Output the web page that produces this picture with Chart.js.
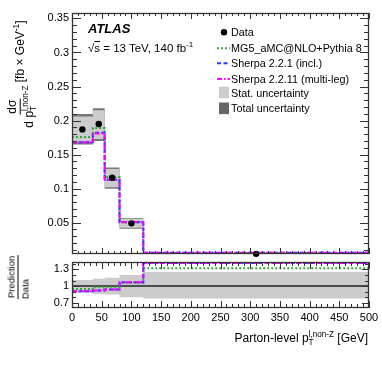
<!DOCTYPE html>
<html>
<head>
<meta charset="utf-8">
<script src="https://cdn.jsdelivr.net/npm/chart.js@4.4.0/dist/chart.umd.min.js"></script>
<style>
  body { margin: 0; background: #fff; font-family: "Liberation Sans", Arial, sans-serif; }
  #wrap { position: relative; width: 382px; height: 367px; overflow: hidden; background: #fff; }
  canvas { position: absolute; left: 0; }
  .txt { position: absolute; white-space: nowrap; color: #000; line-height: 1; }
  .leg { position: absolute; left: 231px; font-size: 10.8px; line-height: 12px; white-space: nowrap; }
  .ss { display: inline-flex; flex-direction: column; vertical-align: middle; font-size: 0.68em; line-height: 0.95; }
  .frac { display: inline-flex; flex-direction: column; align-items: center; vertical-align: middle; }
  .frac .num { border-bottom: 1px solid #000; padding: 0 1px 1px; }
  .frac .den { padding-top: 1px; }
  .frac.left { align-items: flex-start; }
  .rot { position: absolute; transform: translate(-50%, -50%) rotate(-90deg); white-space: nowrap; }
</style>
</head>
<body>
<div id="wrap">
  <canvas id="mainChart" width="382" height="258" style="top:0"></canvas>
  <canvas id="ratioChart" width="382" height="109" style="top:258px"></canvas>

  <div class="txt" style="left:88px; top:22px; font-size:13px; font-weight:bold; font-style:italic;">ATLAS</div>
  <div class="txt" style="left:88px; top:41px; font-size:11.5px;">√<span style="text-decoration:overline">s</span> = 13 TeV, 140 fb<sup style="font-size:0.7em">-1</sup></div>

  <svg width="20" height="92" style="position:absolute; left:214px; top:26px">
    <circle cx="10" cy="6.3" r="3.2" fill="#000"/>
    <line x1="3" y1="22.3" x2="16" y2="22.3" stroke="#3aa63a" stroke-width="2" stroke-dasharray="2 2"/>
    <line x1="3" y1="37.3" x2="16" y2="37.3" stroke="#1f3cff" stroke-width="2" stroke-dasharray="4 2.5"/>
    <line x1="3" y1="53" x2="16" y2="53" stroke="#ff00ff" stroke-width="2" stroke-dasharray="5 2 1.5 2"/>
    <rect x="5" y="60.7" width="10" height="11.6" fill="#cccccc"/>
    <rect x="5" y="76.5" width="10" height="11.6" fill="#666666"/>
  </svg>
  <div class="leg" style="top:26px">Data</div>
  <div class="leg" style="top:42px">MG5_aMC@NLO+Pythia 8</div>
  <div class="leg" style="top:57px">Sherpa 2.2.1 (incl.)</div>
  <div class="leg" style="top:73px">Sherpa 2.2.11 (multi-leg)</div>
  <div class="leg" style="top:87px">Stat. uncertainty</div>
  <div class="leg" style="top:102px">Total uncertainty</div>

  <div class="rot" style="left:21px; top:74px; font-size:12px;">
    <span class="frac"><span class="num">dσ</span><span class="den">d p<span class="ss"><span>l,non-Z</span><span>T</span></span></span></span>
    [fb × GeV<sup style="font-size:0.7em">-1</sup>]
  </div>
  <div class="rot" style="left:18px; top:277px; font-size:9.5px;">
    <span class="frac left"><span class="num">Prediction</span><span class="den">Data</span></span>
  </div>
  <div class="txt" style="right:14px; top:331px; font-size:12px;">Parton-level p<span class="ss"><span>l,non-Z</span><span>T</span></span> [GeV]</div>
</div>

<script>
// bin edges in GeV
const binEdges = [0, 35, 55, 80, 120, 500];

// main panel: dsigma/dpT [fb/GeV]
const dataY = [0.187, 0.195, 0.116, 0.049, 0.0042];
const mg5Y = [0.176, 0.189, 0.117, 0.0505, 0.0055];
const sherpa221Y = [0.168, 0.182, 0.113, 0.0505, 0.0059];
const sherpa2211Y = [0.168, 0.181, 0.113, 0.051, 0.0059];
const statHi = [0.206, 0.215, 0.129, 0.0555, 0.0052];
const statLo = [0.168, 0.173, 0.102, 0.0425, 0.0034];
const totHi = [0.2095, 0.218, 0.131, 0.0566, 0.0053];
const totLo = [0.165, 0.170, 0.100, 0.041, 0.0033];

// ratio panel: prediction / data
const mg5Ratio = [0.95, 0.98, 0.98, 1.06, 1.32];
const sherpa221Ratio = [0.91, 0.92, 0.94, 1.07, 1.41];
const sherpa2211Ratio = [0.91, 0.92, 0.94, 1.07, 1.41];
const ratioHi = [1.11, 1.13, 1.15, 1.2, 1.25];
const ratioLo = [0.88, 0.86, 0.85, 0.8, 0.78];

// axis ticks
const xMajorTicks = [0, 50, 100, 150, 200, 250, 300, 350, 400, 450, 500];
const mainYTicks = [0.05, 0.1, 0.15, 0.2, 0.25, 0.3, 0.35];
const ratioYTicks = [0.7, 1, 1.3];

const FONT = '"Liberation Sans", Arial, sans-serif';
const GREEN = '#3aa63a', BLUE = '#1f3cff', MAGENTA = '#ff00ff';

function stepPoints(vals) {
    return binEdges.map((e, i) => ({ x: e, y: vals[Math.min(i, vals.length - 1)] }));
}

function minorList(lo, hi, step) {
    const out = [];
    for (let v = lo; v <= hi + step / 2; v += step) out.push(+v.toFixed(4));
    return out;
}

// ROOT-style frame with ticks drawn inside on all four sides
const frameTicks = {
    id: 'frameTicks',
    afterDraw(chart, args, o) {
        const { ctx, chartArea: a } = chart;
        const xs = chart.scales.x, ys = chart.scales.y;
        ctx.save();
        ctx.strokeStyle = '#333';
        ctx.lineWidth = 1;
        ctx.beginPath();
        const tickX = (v, len) => {
            const px = Math.round(xs.getPixelForValue(v)) + 0.5;
            ctx.moveTo(px, a.bottom); ctx.lineTo(px, a.bottom - len);
            ctx.moveTo(px, a.top); ctx.lineTo(px, a.top + len);
        };
        const tickY = (v, len) => {
            const py = Math.round(ys.getPixelForValue(v)) + 0.5;
            if (py < a.top - 0.5 || py > a.bottom + 0.5) return;
            ctx.moveTo(a.left, py); ctx.lineTo(a.left + len, py);
            ctx.moveTo(a.right, py); ctx.lineTo(a.right - len, py);
        };
        o.xMinor.forEach(v => tickX(v, o.xMinLen));
        o.xMajor.forEach(v => tickX(v, o.xMajLen));
        o.yMinor.forEach(v => tickY(v, o.yMinLen));
        o.yMajor.forEach(v => tickY(v, o.yMajLen));
        ctx.stroke();
        ctx.lineWidth = 1.3;
        ctx.strokeRect(a.left + 0.5, a.top + 0.5, a.right - a.left - 1, a.bottom - a.top - 1);
        ctx.restore();
    }
};

function lineSet(label, vals, color, dash, order) {
    return {
        label, data: stepPoints(vals), stepped: 'before', borderColor: color,
        borderWidth: 2, borderDash: dash, pointRadius: 0, fill: false, order
    };
}

function bandSet(vals, fillTo, color, order) {
    return {
        data: stepPoints(vals), stepped: 'before', borderWidth: 0, borderColor: 'rgba(0,0,0,0)',
        pointRadius: 0, fill: fillTo, backgroundColor: color, order
    };
}

const tickFont = { family: FONT, size: 11 };

function fixY(s) {
    s.width = 72;
    s.paddingTop = 0;
    s.paddingBottom = 0;
}

new Chart(document.getElementById('mainChart'), {
    type: 'line',
    data: {
        datasets: [
            {
                label: 'Data', data: dataY.map((v, i) => ({ x: (binEdges[i] + binEdges[i + 1]) / 2, y: v })),
                showLine: false, pointRadius: 3.2, pointBackgroundColor: '#000', pointBorderWidth: 0,
                clip: false, order: 0
            },
            lineSet('Sherpa 2.2.11 (multi-leg)', sherpa2211Y, MAGENTA, [5, 2, 1.5, 2], 1),
            lineSet('Sherpa 2.2.1 (incl.)', sherpa221Y, BLUE, [4, 2.5], 2),
            lineSet('MG5_aMC@NLO+Pythia 8', mg5Y, GREEN, [2, 2], 3),
            bandSet(statLo, false, 'rgba(0,0,0,0)', 5),
            bandSet(statHi, 4, '#cccccc', 5),
            bandSet(totLo, false, 'rgba(0,0,0,0)', 6),
            bandSet(totHi, 6, '#777777', 6)
        ]
    },
    options: {
        responsive: false,
        animation: false,
        devicePixelRatio: 1,
        layout: { padding: { left: 0, right: 13, top: 13, bottom: 4 } },
        plugins: {
            legend: { display: false },
            tooltip: { enabled: false },
            frameTicks: {
                xMajor: xMajorTicks, xMinor: minorList(0, 500, 10), xMajLen: 6, xMinLen: 3,
                yMajor: mainYTicks, yMinor: minorList(0.01, 0.35, 0.01), yMajLen: 9, yMinLen: 5
            }
        },
        scales: {
            x: { type: 'linear', min: 0, max: 500, display: false },
            y: {
                type: 'linear', min: 0.004, max: 0.358,
                grid: { display: false, drawTicks: false }, border: { display: false },
                afterFit: fixY,
                afterBuildTicks(s) { s.ticks = mainYTicks.map(v => ({ value: v })); },
                ticks: { padding: 3, color: '#000', font: tickFont, callback: v => String(v) }
            }
        }
    },
    plugins: [frameTicks]
});

new Chart(document.getElementById('ratioChart'), {
    type: 'line',
    data: {
        datasets: [
            lineSet('Sherpa 2.2.11 (multi-leg)', sherpa2211Ratio, MAGENTA, [5, 2, 1.5, 2], 1),
            lineSet('Sherpa 2.2.1 (incl.)', sherpa221Ratio, BLUE, [4, 2.5], 2),
            lineSet('MG5_aMC@NLO+Pythia 8', mg5Ratio, GREEN, [2, 2], 3),
            {
                data: [{ x: binEdges[0], y: 1 }, { x: binEdges[binEdges.length - 1], y: 1 }],
                borderColor: '#222', borderWidth: 1.5, pointRadius: 0, fill: false, order: 4
            },
            bandSet(ratioLo, false, 'rgba(0,0,0,0)', 5),
            bandSet(ratioHi, 4, '#cccccc', 5)
        ]
    },
    options: {
        responsive: false,
        animation: false,
        devicePixelRatio: 1,
        layout: { padding: { left: 0, right: 13, top: 4, bottom: 0 } },
        plugins: {
            legend: { display: false },
            tooltip: { enabled: false },
            frameTicks: {
                xMajor: xMajorTicks, xMinor: minorList(0, 500, 10), xMajLen: 7, xMinLen: 4,
                yMajor: ratioYTicks, yMinor: minorList(0.6, 1.4, 0.1), yMajLen: 7, yMinLen: 4
            }
        },
        scales: {
            x: {
                type: 'linear', min: 0, max: 500,
                grid: { display: false, drawTicks: false }, border: { display: false },
                afterFit(s) { s.height = 59; s.paddingLeft = 0; s.paddingRight = 0; },
                afterBuildTicks(s) { s.ticks = xMajorTicks.map(v => ({ value: v })); },
                ticks: { padding: 3, color: '#000', font: tickFont, maxRotation: 0, autoSkip: false, callback: v => String(v) }
            },
            y: {
                type: 'linear', min: 0.61, max: 1.43,
                grid: { display: false, drawTicks: false }, border: { display: false },
                afterFit: fixY,
                afterBuildTicks(s) { s.ticks = ratioYTicks.map(v => ({ value: v })); },
                ticks: { padding: 3, color: '#000', font: tickFont, callback: v => String(v) }
            }
        }
    },
    plugins: [frameTicks]
});
</script>
</body>
</html>
